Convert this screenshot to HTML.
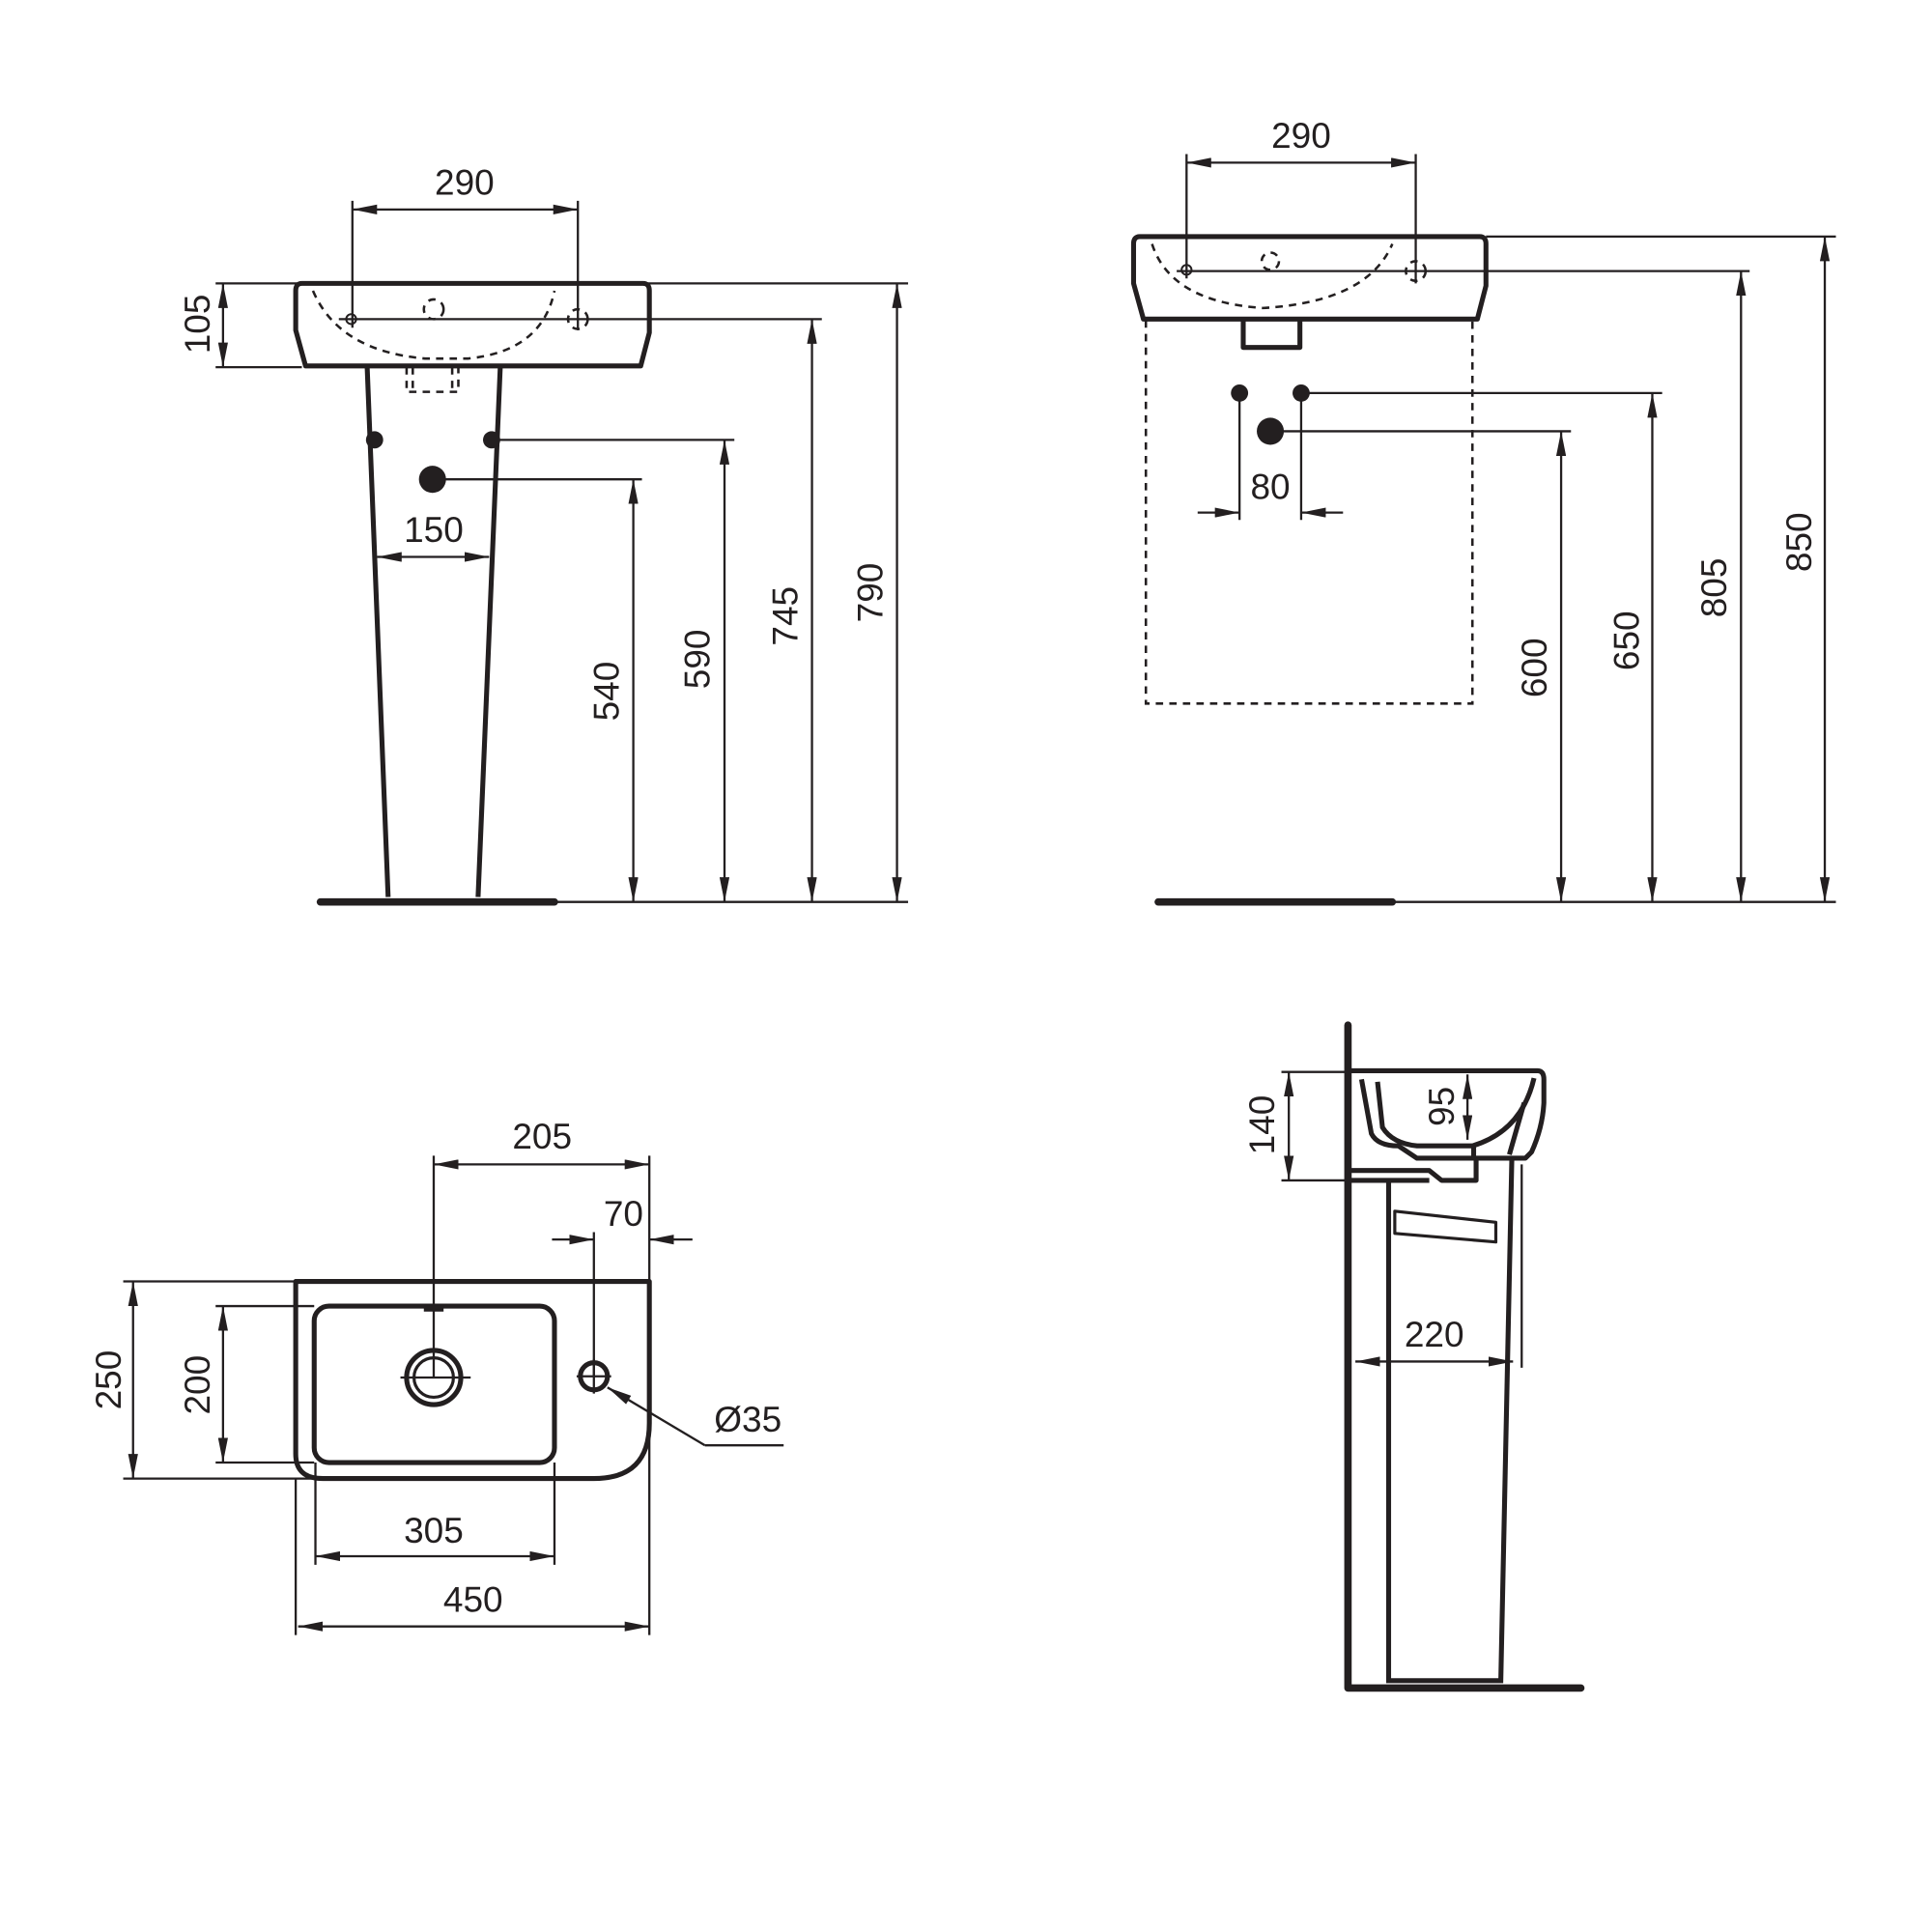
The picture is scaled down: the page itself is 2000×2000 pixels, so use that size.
<!DOCTYPE html>
<html><head><meta charset="utf-8"><style>html,body{margin:0;padding:0;background:#fff}svg{display:block}</style></head>
<body>
<svg xmlns="http://www.w3.org/2000/svg" width="2000" height="2000" viewBox="0 0 1568 1568" font-family="Liberation Sans, sans-serif" font-size="29" fill="none" stroke="#231f20">
<defs>
<marker id="a" viewBox="0 0 20 8" refX="20" refY="4" markerWidth="20" markerHeight="8" markerUnits="userSpaceOnUse" orient="auto-start-reverse"><path d="M0,0 L20,4 L0,8 Z" fill="#231f20" stroke="none"/></marker>
</defs>
<g stroke-width="1.8">
<path d="M286,163V266 M469,163V268" />
<line x1="286" y1="170" x2="469" y2="170" marker-start="url(#a)" marker-end="url(#a)"/>
<path d="M175,230H737 M175,298H245 M275,259H667 M399,357H596 M351,389H521"/>
<line x1="181" y1="230" x2="181" y2="298" marker-start="url(#a)" marker-end="url(#a)"/>
<line x1="514" y1="389" x2="514" y2="732" marker-start="url(#a)" marker-end="url(#a)"/>
<line x1="588" y1="357" x2="588" y2="732" marker-start="url(#a)" marker-end="url(#a)"/>
<line x1="659" y1="259" x2="659" y2="732" marker-start="url(#a)" marker-end="url(#a)"/>
<line x1="728" y1="230" x2="728" y2="732" marker-start="url(#a)" marker-end="url(#a)"/>
<line x1="306" y1="452" x2="397" y2="452" marker-start="url(#a)" marker-end="url(#a)"/>
<path d="M450,732H737"/>
</g>
<g stroke-width="4" stroke-linejoin="round">
<path d="M245,230H522Q527,230 527,236V270L520,297H248L240,268V236Q240,230 245,230Z"/>
<path d="M298,298L315,728 M406,298L388,728"/>
</g>
<g stroke-width="2" stroke-dasharray="6,5">
<path d="M254,236Q275,285 345,291 H380 Q440,285 450,236"/>
<path d="M330,298V318H372V298 M335,298V318 M367,298V318"/>
<circle cx="352" cy="251" r="8"/>
<circle cx="469" cy="259" r="8"/>
</g>
<circle cx="285" cy="259" r="4" stroke-width="1.6"/>
<path d="M260,732H450" stroke-width="6" stroke-linecap="round"/>
<g fill="#231f20" stroke="none">
<circle cx="304" cy="357" r="7"/><circle cx="399" cy="357" r="7"/><circle cx="351" cy="389" r="11"/>
</g>
<g fill="#231f20" stroke="none" text-anchor="middle">
<text x="377" y="158">290</text>
<text x="352" y="440">150</text>
<text transform="translate(170,263) rotate(-90)">105</text>
<text transform="translate(502,561) rotate(-90)">540</text>
<text transform="translate(576,535) rotate(-90)">590</text>
<text transform="translate(647,500) rotate(-90)">745</text>
<text transform="translate(716,481) rotate(-90)">790</text>
</g>

<g stroke-width="1.8">
<path d="M963,125V226 M1149,125V230 M1006,319V422 M1056,319V422"/>
<line x1="963" y1="132" x2="1149" y2="132" marker-start="url(#a)" marker-end="url(#a)"/>
<line x1="972" y1="416" x2="1006" y2="416" marker-end="url(#a)"/>
<line x1="1090" y1="416" x2="1056" y2="416" marker-end="url(#a)"/>
<path d="M1206,192H1490 M955,220H1420 M1056,319H1349 M1031,350H1275 M1130,732H1490"/>
<line x1="1267" y1="350" x2="1267" y2="732" marker-start="url(#a)" marker-end="url(#a)"/>
<line x1="1341" y1="319" x2="1341" y2="732" marker-start="url(#a)" marker-end="url(#a)"/>
<line x1="1413" y1="220" x2="1413" y2="732" marker-start="url(#a)" marker-end="url(#a)"/>
<line x1="1481" y1="192" x2="1481" y2="732" marker-start="url(#a)" marker-end="url(#a)"/>
</g>
<g stroke-width="4" stroke-linejoin="round">
<path d="M925,192H1201Q1206,192 1206,198V232L1199,259H928L920,230V198Q920,192 925,192Z"/>
<path d="M1009,260V282H1055V260"/>
</g>
<g stroke-width="2" stroke-dasharray="6,5">
<path d="M935,198Q950,245 1025,250 Q1110,245 1130,198"/>
<path d="M930,260V571H1195V260"/>
<circle cx="1031" cy="212" r="7"/>
<circle cx="1149" cy="220" r="8"/>
</g>
<circle cx="963" cy="219" r="4" stroke-width="1.6"/>
<path d="M940,732H1130" stroke-width="6" stroke-linecap="round"/>
<g fill="#231f20" stroke="none">
<circle cx="1006" cy="319" r="7"/><circle cx="1056" cy="319" r="7"/><circle cx="1031" cy="350" r="11"/>
</g>
<g fill="#231f20" stroke="none" text-anchor="middle">
<text x="1056" y="120">290</text>
<text x="1031" y="405">80</text>
<text transform="translate(1255,542) rotate(-90)">600</text>
<text transform="translate(1330,520) rotate(-90)">650</text>
<text transform="translate(1401,477) rotate(-90)">805</text>
<text transform="translate(1470,440) rotate(-90)">850</text>
</g>

<g stroke-width="1.8">
<path d="M352,938V1118 M527,938V1040 M482,1000V1117 M527,1000V1030"/>
<line x1="352" y1="945" x2="527" y2="945" marker-start="url(#a)" marker-end="url(#a)"/>
<line x1="448" y1="1006" x2="482" y2="1006" marker-end="url(#a)"/>
<line x1="562" y1="1006" x2="527" y2="1006" marker-end="url(#a)"/>
<path d="M100,1040H240 M100,1200H255 M175,1060H255 M175,1187H255"/>
<line x1="108" y1="1040" x2="108" y2="1200" marker-start="url(#a)" marker-end="url(#a)"/>
<line x1="181" y1="1060" x2="181" y2="1187" marker-start="url(#a)" marker-end="url(#a)"/>
<path d="M256,1187V1270 M450,1187V1270 M240,1200V1327 M527,1160V1327"/>
<line x1="256" y1="1263" x2="450" y2="1263" marker-start="url(#a)" marker-end="url(#a)"/>
<line x1="242" y1="1320" x2="527" y2="1320" marker-start="url(#a)" marker-end="url(#a)"/>
<path d="M636,1173H572"/>
<line x1="572" y1="1173" x2="493" y2="1126" marker-end="url(#a)"/>
<path d="M325,1118H382 M468,1117H496 M482,1103V1131"/>
</g>
<g stroke-width="4" stroke-linejoin="round">
<path d="M240,1040H527V1155Q527,1200 482,1200H262Q240,1200 240,1180Z"/>
<rect x="255" y="1060" width="195" height="127" rx="12"/>
<circle cx="352" cy="1118" r="22"/>
<circle cx="352" cy="1118" r="16" stroke-width="2.5"/>
<circle cx="482" cy="1117" r="11"/>
</g>
<path d="M344,1062H360" stroke-width="5"/>
<g fill="#231f20" stroke="none" text-anchor="middle">
<text x="440" y="932">205</text>
<text x="506" y="995">70</text>
<text x="607" y="1162">Ø35</text>
<text x="352" y="1252">305</text>
<text x="384" y="1308">450</text>
<text transform="translate(98,1120) rotate(-90)">250</text>
<text transform="translate(170,1124) rotate(-90)">200</text>
</g>

<g stroke-width="1.8">
<path d="M1040,870H1100 M1040,958H1100 M1235,945V1110"/>
<line x1="1046" y1="870" x2="1046" y2="958" marker-start="url(#a)" marker-end="url(#a)"/>
<line x1="1191" y1="872" x2="1191" y2="925" marker-start="url(#a)" marker-end="url(#a)"/>
<line x1="1100" y1="1105" x2="1228" y2="1105" marker-start="url(#a)" marker-end="url(#a)"/>
</g>
<path d="M1094,832V1370H1283" stroke-width="6" stroke-linecap="round" stroke-linejoin="round"/>
<g stroke-width="4" stroke-linejoin="round">
<path d="M1096,869H1248Q1253,869 1253,876V895Q1252,915 1243,935L1238,940H1198V958H1170L1160,950H1096"/>
<path d="M1105,876L1113,920Q1118,930 1135,930L1150,940H1196V930"/>
<path d="M1118,878L1122,915Q1130,928 1150,930H1195Q1235,918 1245,875"/>
<path d="M1237,895L1225,937"/>
<path d="M1096,958H1160 M1127,958V1366 M1227,940L1218,1366 M1127,1364H1218"/>
<path d="M1132,983L1214,992V1008L1132,1001Z" stroke-width="2.5"/>
</g>
<g fill="#231f20" stroke="none" text-anchor="middle">
<text x="1164" y="1093">220</text>
<text transform="translate(1034,913) rotate(-90)">140</text>
<text transform="translate(1180,898) rotate(-90)">95</text>
</g>
</svg>
</body></html>
